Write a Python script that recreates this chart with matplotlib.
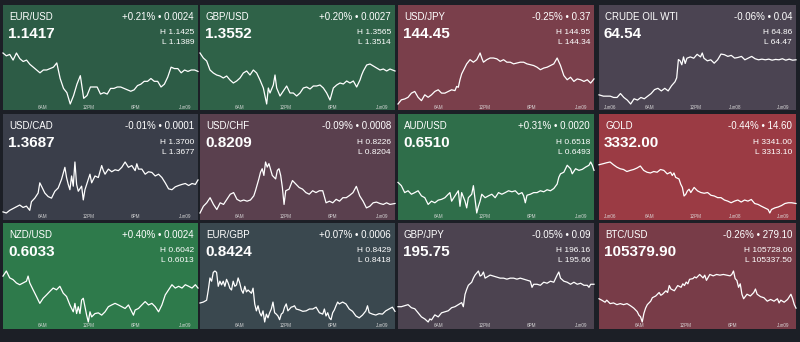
import numpy as np
import matplotlib.pyplot as plt
from matplotlib.patches import Rectangle

plt.rcParams['font.family'] = ['Liberation Sans', 'DejaVu Sans']

# ---- price series (time in minutes, price) ----
eurusd_t = np.arange(36, 1429, 24)
eurusd_p = [1.1425, 1.1423, 1.1424, 1.1420, 1.1425, 1.1421, 1.1419, 1.1420, 1.1417, 1.1415,
            1.1413, 1.1411, 1.1413, 1.1413, 1.1414, 1.1415, 1.1418, 1.1407, 1.1400, 1.1397,
            1.1389, 1.1395, 1.1403, 1.1409, 1.1393, 1.1395, 1.1401, 1.1401, 1.1401, 1.1396,
            1.1397, 1.1396, 1.1400, 1.1400, 1.1401, 1.1401, 1.1400, 1.1399, 1.1398, 1.1399,
            1.1402, 1.1403, 1.1405, 1.1405, 1.1407, 1.1405, 1.1405, 1.1401, 1.1403, 1.1408,
            1.1415, 1.1414, 1.1414, 1.1411, 1.1413, 1.1412, 1.1413, 1.1413, 1.1412]

gbpusd_t = np.r_[np.arange(24, 505, 24), 516, 528, 552, 564, 576, np.arange(600, 1177, 24),
                 1188, 1200, np.arange(1224, 1393, 24), 1428]
gbpusd_p = [1.3565, 1.3560, 1.3557, 1.3548, 1.3545, 1.3543, 1.3542, 1.3540, 1.3542, 1.3538,
            1.3535, 1.3537, 1.3540, 1.3545, 1.3547, 1.3543, 1.3548, 1.3545, 1.3538, 1.3530, 1.3514,
            1.3530, 1.3525, 1.3533, 1.3543, 1.3530,
            1.3522, 1.3527, 1.3532, 1.3525, 1.3525, 1.3522, 1.3525, 1.3530, 1.3531, 1.3529,
            1.3532, 1.3532, 1.3533, 1.3530, 1.3525, 1.3518, 1.3530, 1.3533, 1.3535, 1.3534,
            1.3537, 1.3535, 1.3537, 1.3531, 1.3538,
            1.3543, 1.3547,
            1.3553, 1.3554, 1.3552, 1.3550, 1.3548, 1.3549, 1.3547, 1.3549,
            1.3547]

usdjpy_t = np.r_[np.arange(12, 421, 24), 432, 444, 456, 468, 480, 504, 528, 552, 576, 600, 612,
                 np.arange(624, 1417, 24)]
usdjpy_p = [144.34, 144.39, 144.40, 144.42, 144.47, 144.49, 144.42, 144.38, 144.45, 144.42,
            144.45, 144.49, 144.51, 144.47, 144.47, 144.49, 144.51, 144.50,
            144.55, 144.54, 144.63, 144.70, 144.74,
            144.82, 144.87, 144.84, 144.87, 144.95, 144.89,
            144.84, 144.87, 144.89, 144.89, 144.88, 144.85, 144.87, 144.84, 144.84, 144.82,
            144.83, 144.84, 144.84, 144.82, 144.81, 144.80, 144.78, 144.75, 144.77, 144.78,
            144.80, 144.82, 144.89, 144.80, 144.68, 144.63, 144.66, 144.61, 144.64, 144.63,
            144.61, 144.63, 144.59, 144.64]

wti_t = np.r_[29, np.arange(60, 565, 24), 576, 588, 600, 612, 624, 636, 648, 672, 696, 720, 744,
              756, 768, np.arange(792, 1417, 24)]
wti_p = [64.54, 64.53, 64.53, 64.53, 64.52, 64.52, 64.55, 64.52, 64.50, 64.47,
         64.51, 64.50, 64.52, 64.51, 64.53, 64.55, 64.58, 64.59, 64.57, 64.59,
         64.57, 64.61, 64.64,
         64.67, 64.81, 64.80, 64.77, 64.83, 64.78, 64.82, 64.83, 64.82, 64.85, 64.83, 64.86, 64.82,
         64.800, 64.808, 64.782, 64.808, 64.852, 64.847, 64.834, 64.842, 64.821, 64.826,
         64.834, 64.808, 64.821, 64.834, 64.816, 64.808, 64.813, 64.808, 64.813, 64.805,
         64.811, 64.808, 64.816, 64.805, 64.813, 64.805, 64.808]

usdcad_t = [36, 60, 84, 108, 132, 156, 180, 204, 228, 240, 264, 288, 300, 312, 336, 360, 384,
            408, 432, 456, 480, 492, 504, 516, 528, 540, 552, 564, 576, 600, 612, 624, 648, 660,
            672, 696, 720, 744, 756, 768, 792, 816, 840, 864, 888, 912, 936, 960, 984, 996, 1008,
            1032, 1056, 1080, 1104, 1128, 1152, 1176, 1200, 1224, 1248, 1272, 1296, 1320, 1344,
            1368, 1392, 1416, 1435]
usdcad_p = [1.36775, 1.36770, 1.36782, 1.36790, 1.36798, 1.36806, 1.36795, 1.36801, 1.36782,
            1.36821, 1.36837, 1.36860, 1.36906, 1.36891,
            1.36860, 1.36844, 1.36837, 1.36868, 1.36883, 1.36922, 1.36976,
            1.36930, 1.36899, 1.36875, 1.36937, 1.36891, 1.37000, 1.36899, 1.36868,
            1.36891, 1.36829, 1.36875,
            1.36922, 1.36945, 1.36906,
            1.36937, 1.36930, 1.36984, 1.36961, 1.36945,
            1.36968, 1.36956, 1.36965, 1.36961, 1.36976, 1.37000, 1.36976, 1.36984, 1.36961,
            1.36992, 1.36968,
            1.36968, 1.36945, 1.36956, 1.36953, 1.36937, 1.36945, 1.36930, 1.36906, 1.36879,
            1.36875, 1.36888, 1.36894, 1.36899, 1.36903, 1.36894, 1.36903, 1.36899,
            1.36919]

usdchf_t = np.r_[np.arange(36, 421, 24), 432, 456, 468, 480, 492, 504, 516, 528, 552, 576, 588,
                 600, 612, 624, 636, 648, np.arange(672, 1393, 24), 1428]
usdchf_p = [0.82040, 0.82069, 0.82084, 0.82106, 0.82077, 0.82055, 0.82084, 0.82077, 0.82099, 0.82121,
            0.82128, 0.82099, 0.82091, 0.82096, 0.82091, 0.82096, 0.82114,
            0.82136, 0.82187, 0.82216, 0.82231, 0.82202, 0.82260, 0.82238, 0.82253, 0.82202, 0.82187,
            0.82224, 0.82231, 0.82202, 0.82150, 0.82077, 0.82136,
            0.82143, 0.82180, 0.82165, 0.82150, 0.82143, 0.82128, 0.82121, 0.82136, 0.82128, 0.82136,
            0.82136, 0.82084, 0.82091, 0.82084, 0.82099, 0.82091, 0.82106, 0.82106, 0.82116, 0.82128,
            0.82155, 0.82114, 0.82091, 0.82062, 0.82069, 0.82084, 0.82087, 0.82081, 0.82077, 0.82084,
            0.82077,
            0.82081]

audusd_t = [12, 36, 60, 84, 108, 132, 156, 180, 204, 228, 252, 276, 300, 324, 348, 372,
            384, 396, 420, 444, 456, 468, 492, 504, 516, 540, 552, 564, 576, 588, 600, 612,
            636, 660, 684, 708, 732, 756, 780, 804, 828, 852, 876, 900,
            912, 924, 936,
            960, 984, 1008, 1032, 1056, 1080, 1104, 1128,
            1152, 1164, 1176, 1200, 1212, 1224, 1248, 1260, 1284, 1308, 1332, 1356, 1380, 1392,
            1404, 1416]
audusd_p = [0.65080, 0.65064, 0.65030, 0.65039, 0.65022, 0.65030, 0.65039, 0.65014, 0.65005,
            0.64972, 0.64988, 0.64980, 0.64993, 0.64997, 0.65005, 0.65022,
            0.65030, 0.64988, 0.65014, 0.65039, 0.64963, 0.65030, 0.64988, 0.64955, 0.65005,
            0.65022, 0.65064, 0.64997, 0.64930, 0.64963, 0.64988, 0.65022,
            0.65005, 0.65014, 0.65022, 0.65005, 0.65030, 0.65022, 0.65030, 0.65039, 0.65034,
            0.65039, 0.65022, 0.65030,
            0.65014, 0.64980, 0.65017,
            0.65022, 0.65030, 0.65030, 0.65039, 0.65034, 0.65044, 0.65039, 0.65050,
            0.65072, 0.65105, 0.65122, 0.65130, 0.65147, 0.65164, 0.65147, 0.65122, 0.65147,
            0.65139, 0.65144, 0.65155, 0.65164, 0.65180, 0.65164, 0.65139]

gold_t = np.r_[29, np.arange(60, 541, 24), 552, 564, 576, 600, 612, 624, 636, 648, 660, 672, 684,
               np.arange(708, 1237, 24), 1248, np.arange(1260, 1405, 24), 1435]
gold_p = [3339.5,
          3340.1, 3340.6, 3341.0, 3339.5, 3338.2, 3337.3, 3336.9, 3335.8, 3336.4, 3336.9,
          3337.7, 3338.8, 3336.4, 3335.4, 3335.0, 3335.8, 3335.4, 3336.9, 3336.4, 3334.5, 3335.4,
          3333.6, 3335.0, 3332.6, 3331.7, 3328.9, 3327.1, 3322.4, 3323.3, 3325.2, 3326.1, 3324.3,
          3327.1, 3325.2, 3324.3, 3323.9, 3324.3, 3322.8, 3322.4, 3321.5, 3321.5, 3320.2,
          3319.6, 3318.7, 3319.6, 3320.2, 3319.1, 3320.2, 3319.6, 3320.5, 3318.3, 3317.8,
          3316.8, 3315.9, 3315.0,
          3313.1,
          3315.0, 3315.9, 3316.4, 3317.2, 3318.3, 3318.7, 3318.7,
          3318.3]

nzdusd_t = np.r_[np.arange(36, 205, 24), 216, 228, np.arange(252, 541, 24), np.arange(552, 673, 12),
                 np.arange(696, 961, 24), 972, 984, np.arange(1008, 1417, 24), 1435]
nzdusd_p = [0.60391, 0.60420, 0.60381, 0.60371, 0.60352, 0.60342, 0.60352, 0.60362,
            0.60391, 0.60352,
            0.60313, 0.60275, 0.60236, 0.60265, 0.60284, 0.60304, 0.60323, 0.60313, 0.60333,
            0.60294, 0.60275, 0.60227, 0.60188,
            0.60236, 0.60178, 0.60217, 0.60178, 0.60255, 0.60265, 0.60217, 0.60169, 0.60130,
            0.60188, 0.60159,
            0.60178, 0.60182, 0.60169, 0.60188, 0.60217, 0.60227, 0.60236, 0.60227, 0.60217,
            0.60207, 0.60227, 0.60188,
            0.60169, 0.60198,
            0.60207, 0.60227, 0.60246, 0.60227, 0.60236, 0.60217, 0.60188, 0.60227, 0.60284,
            0.60313, 0.60342, 0.60323, 0.60333, 0.60323, 0.60342, 0.60333, 0.60323, 0.60342,
            0.60323]

eurgbp_t = np.r_[24, 48, np.arange(72, 373, 12), np.arange(396, 721, 12), np.arange(744, 865, 24),
                 888, 912, np.arange(924, 1021, 12), np.arange(1032, 1225, 24), 1236,
                 np.arange(1248, 1417, 24), 1435]
eurgbp_p = [0.84221, 0.84223,
            0.84227, 0.84249, 0.84275, 0.84268, 0.84287, 0.84290, 0.84287, 0.84257, 0.84268, 0.84260,
            0.84268, 0.84257, 0.84272, 0.84264, 0.84253, 0.84249, 0.84268, 0.84257, 0.84260, 0.84275,
            0.84264, 0.84249, 0.84242, 0.84257, 0.84245, 0.84249,
            0.84242, 0.84253, 0.84219, 0.84204, 0.84215, 0.84200, 0.84193, 0.84204, 0.84180, 0.84197,
            0.84189, 0.84200, 0.84208, 0.84223, 0.84200, 0.84197, 0.84193, 0.84185, 0.84197, 0.84200,
            0.84212, 0.84219, 0.84204, 0.84208, 0.84212, 0.84213, 0.84215, 0.84208,
            0.84206, 0.84203, 0.84204, 0.84208, 0.84208, 0.84212,
            0.84200, 0.84197,
            0.84208, 0.84193, 0.84200, 0.84189, 0.84185, 0.84200, 0.84206, 0.84215, 0.84223,
            0.84219, 0.84223, 0.84219, 0.84208, 0.84203, 0.84193, 0.84189, 0.84195, 0.84204,
            0.84215,
            0.84200, 0.84197, 0.84195, 0.84198, 0.84197, 0.84204, 0.84208, 0.84212,
            0.84203]

gbpjpy_t = np.r_[np.arange(12, 229, 24), 240, 252, np.arange(276, 469, 24), 480, 492, 504, 516,
                 np.arange(540, 649, 12), np.arange(672, 961, 24), 972, np.arange(984, 1153, 24),
                 1164, np.arange(1176, 1369, 24), 1380, 1392, 1416]
gbpjpy_p = [195.81, 195.81, 195.82, 195.83, 195.80, 195.79, 195.75, 195.71, 195.69, 195.66,
            195.69, 195.68,
            195.73, 195.71, 195.75, 195.76, 195.77, 195.80, 195.81, 195.83, 195.85,
            195.81, 195.93, 195.98, 196.02, 196.05, 196.09, 196.12, 196.14, 196.16, 196.11,
            196.12, 196.15, 196.09, 196.10,
            196.12, 196.11, 196.10, 196.09, 196.09, 196.08, 196.09, 196.09, 196.08, 196.09,
            196.08, 196.07, 196.06,
            196.00,
            196.03, 196.03, 196.02, 196.05, 196.04, 196.06, 196.05, 196.12,
            196.15,
            196.09, 196.06, 196.05, 196.03, 196.05, 196.03, 196.04, 196.02, 196.02,
            196.00, 196.03, 196.03]

btcusd_t = np.r_[29, 48, 72, 84, np.arange(108, 301, 24), np.arange(312, 409, 12),
                 np.arange(432, 481, 12), np.arange(504, 541, 12), 564, 588, 612,
                 np.arange(624, 673, 12), 696, 708, 720, 744, 768, 780, 792,
                 np.arange(816, 961, 24), np.arange(972, 1057, 12), 1080, 1104, 1128, 1140, 1152,
                 np.arange(1176, 1297, 24), 1308, 1320, 1344, 1368, 1392, 1404, 1416, 1428]
btcusd_p = [105515.5, 105504.9, 105488.9, 105504.9, 105478.3, 105483.6, 105470.4, 105478.3, 105470.4, 105478.3,
            105462.4, 105443.8, 105417.2, 105390.6, 105377.4, 105337.5, 105403.9, 105443.8, 105470.4, 105483.6,
            105496.9, 105523.5, 105536.8, 105550.1, 105563.3, 105542.1, 105550.1, 105576.6, 105563.3, 105616.5,
            105589.9, 105576.6, 105616.5, 105603.2, 105629.8, 105616.5, 105643.1, 105629.8, 105664.3, 105669.6,
            105682.9, 105674.9, 105701.5, 105674.9, 105696.2, 105656.3, 105701.5, 105690.9, 105701.5, 105696.2,
            105701.5, 105696.2, 105690.9, 105701.5, 105728.0, 105669.6, 105656.3, 105603.2, 105629.8, 105550.1,
            105515.5, 105550.1, 105536.8, 105563.3, 105589.9, 105550.1, 105531.5, 105523.5, 105496.9, 105510.2,
            105496.9, 105515.5, 105483.6, 105504.9, 105488.9, 105510.2, 105550.1, 105515.5, 105470.4, 105443.8]

# ---- quote header values ----
symbols = ['EUR/USD', 'GBP/USD', 'USD/JPY', 'CRUDE OIL WTI',
           'USD/CAD', 'USD/CHF', 'AUD/USD', 'GOLD',
           'NZD/USD', 'EUR/GBP', 'GBP/JPY', 'BTC/USD']
last = [1.1417, 1.3552, 144.45, 64.54, 1.3687, 0.8209, 0.6510, 3332.00,
        0.6033, 0.8424, 195.75, 105379.90]
change_pct = [0.21, 0.20, -0.25, -0.06, -0.01, -0.09, 0.31, -0.44, 0.40, 0.07, -0.05, -0.26]
change = [0.0024, 0.0027, 0.37, 0.04, 0.0001, 0.0008, 0.0020, 14.60, 0.0024, 0.0006, 0.09, 279.10]
highs = [1.1425, 1.3565, 144.95, 64.86, 1.3700, 0.8226, 0.6518, 3341.00,
         0.6042, 0.8429, 196.16, 105728.00]
lows = [1.1389, 1.3514, 144.34, 64.47, 1.3677, 0.8204, 0.6493, 3313.10,
        0.6013, 0.8418, 195.66, 105337.50]
decimals = [4, 4, 2, 2, 4, 4, 4, 2, 4, 4, 2, 2]

fx_ticks = ['6AM', '12PM', '6PM', 'Jun09']
cmdty_ticks = ['Jun06', '6AM', '12PM', 'Jun08', 'Jun09']

series = [(eurusd_t, eurusd_p), (gbpusd_t, gbpusd_p), (usdjpy_t, usdjpy_p), (wti_t, wti_p),
          (usdcad_t, usdcad_p), (usdchf_t, usdchf_p), (audusd_t, audusd_p), (gold_t, gold_p),
          (nzdusd_t, nzdusd_p), (eurgbp_t, eurgbp_p), (gbpjpy_t, gbpjpy_p), (btcusd_t, btcusd_p)]

tile_colors = ['#2d5c46', '#2f6248', '#7a3f4b', '#4b4452',
               '#3a3e4a', '#5a404e', '#2f6e4a', '#9b3b44',
               '#2e7a4b', '#3a484f', '#4c4350', '#783c48']

W, H = 800, 342
fig = plt.figure(figsize=(W / 100, H / 100), dpi=100, facecolor='#1c1f26')

col_x = [(3, 198), (200, 395), (398, 594), (599, 796)]
row_y = [(5, 110), (114, 220), (223, 329)]
fx_tick_pos = [0.205, 0.44, 0.68, 0.935]
cmdty_tick_pos = [0.055, 0.255, 0.49, 0.69, 0.935]


def fxp(x):
    return x / W


def fyp(y):
    return 1 - y / H


for i, sym in enumerate(symbols):
    r, c = divmod(i, 4)
    x0, x1 = col_x[c]
    y0, y1 = row_y[r]
    w = x1 - x0

    # tile background sits below everything else
    fig.add_artist(Rectangle((fxp(x0), fyp(y1)), w / W, (y1 - y0) / H, zorder=-10,
                             transform=fig.transFigure, color=tile_colors[i], lw=0))

    # sparkline
    t, p = series[i]
    ax = fig.add_axes([fxp(x0), fyp(y0 + 99), w / W, 51 / H])
    ax.axis('off')
    ax.plot(t, p, color='white', lw=0.9, clip_on=False, solid_joinstyle='round')
    ax.set_xlim(min(t), max(t))
    ax.set_ylim(min(p), max(p))

    d = decimals[i]
    fig.text(fxp(x0 + 6), fyp(y0 + 12), sym, color='white', fontsize=7,
             ha='left', va='center')
    fig.text(fxp(x0 + 5), fyp(y0 + 29), f'{last[i]:.{d}f}', color='white', fontsize=11,
             fontweight='bold', ha='left', va='center')
    fig.text(fxp(x1 - 4), fyp(y0 + 12), f'{change_pct[i]:+.2f}% \u2022 {change[i]:.{d}f}',
             color='white', fontsize=7, ha='right', va='center')
    fig.text(fxp(x1 - 4), fyp(y0 + 28), f'H {highs[i]:.{d}f}', color='white', fontsize=6,
             ha='right', va='center')
    fig.text(fxp(x1 - 4), fyp(y0 + 38), f'L {lows[i]:.{d}f}', color='white', fontsize=6,
             ha='right', va='center')

    if sym in ('CRUDE OIL WTI', 'GOLD'):
        labels, pos = cmdty_ticks, cmdty_tick_pos
    else:
        labels, pos = fx_ticks, fx_tick_pos
    for lab, fpos in zip(labels, pos):
        fig.text(fxp(x0 + fpos * w), fyp(y0 + 102.5), lab, color='#e0e0e0', alpha=0.9,
                 fontsize=3.3, ha='center', va='center')

fig.savefig('out.png', dpi=100, facecolor=fig.get_facecolor())
